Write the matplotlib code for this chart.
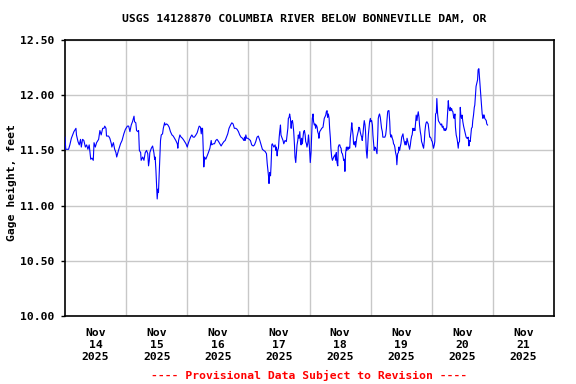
import matplotlib
matplotlib.use("Agg")
import matplotlib.pyplot as plt

# Hours since Nov 14 2025 00:00 and gage height (feet)
hours = [
    0.0, 0.3, 1.4, 1.9, 2.5, 3.0, 3.5, 4.3, 4.5, 5.1, 5.6, 6.1, 6.4, 6.9, 7.4, 8.0,
    8.5, 9.0, 9.5, 10.1, 10.6, 11.1, 11.4, 11.9, 12.4, 13.2, 13.7, 14.2, 14.5, 14.8,
    15.3, 15.6, 16.1, 16.3, 17.1, 17.6, 18.2, 18.4, 19.0, 19.5, 20.0, 20.3, 21.0,
    21.8, 22.4, 23.1, 23.7, 24.5, 25.0,
    25.5, 26.0, 26.5, 27.1, 27.3, 27.8, 28.1, 28.6, 28.9, 29.2, 29.7, 29.9, 30.5,
    31.0, 31.5, 32.0, 32.5, 32.8, 33.1, 33.3, 33.9, 34.4, 34.9, 35.2, 35.4, 35.7,
    36.2, 36.5, 36.7, 37.0, 37.5, 37.8, 38.3, 38.6, 39.1, 39.3, 39.9, 40.4, 40.9,
    41.4, 42.0, 42.5, 43.0, 43.5, 44.1, 44.3, 44.6, 45.1, 45.6, 46.1, 46.7, 47.5,
    48.0, 48.2, 48.8, 49.3, 49.8, 50.3, 50.8, 51.4, 51.9, 52.4,
    52.7, 53.2, 53.5, 53.7, 54.0, 54.3, 54.5, 54.8, 55.3, 55.8, 56.3, 56.9, 57.4,
    57.6, 58.2, 58.7, 59.2, 59.7, 60.3, 60.8, 61.3, 61.8, 62.4, 62.9, 63.4, 63.9,
    64.4, 65.0, 65.5, 66.0, 66.5, 67.1, 67.6, 68.1, 68.6, 69.1, 69.7, 70.2, 70.5,
    70.7, 71.0, 71.3, 71.8, 72.3, 72.8, 73.3, 73.9, 74.4, 74.9, 75.4, 75.9, 76.5,
    77.0, 77.5, 78.0, 78.6,
    79.1, 79.4, 79.9, 80.1, 80.4, 80.7, 80.9, 81.2, 81.4, 82.0, 82.5, 82.8, 83.0,
    83.3, 83.5, 83.8, 84.1, 84.3, 84.6, 84.8, 85.1, 85.6, 85.9, 86.4, 86.9, 87.2,
    87.5, 87.7, 88.0, 88.2, 88.5, 88.8, 89.0, 89.3, 89.5, 89.8, 90.1, 90.3, 90.6,
    90.9, 91.1, 91.4, 91.6, 91.9, 92.2, 92.4, 92.7, 92.9, 93.2, 93.4, 93.7, 94.0,
    94.3, 94.5, 94.8, 95.0, 95.3, 95.6, 95.8, 96.1, 96.3, 96.6, 96.9, 97.1, 97.4,
    97.6, 97.9, 98.2, 98.4, 98.7, 99.0, 99.2, 99.5, 99.7, 100.0, 100.3, 100.8,
    101.3, 101.6, 101.8, 102.4, 102.6, 102.9, 103.1, 103.4, 103.7, 103.9, 104.2,
    104.4, 104.7, 105.0,
    105.5, 106.0, 106.3, 106.5, 106.8, 107.1, 107.3, 107.6, 107.9, 108.1, 108.4,
    108.6, 108.9, 109.2, 109.4, 109.7, 109.9, 110.2, 110.5, 110.7, 111.0, 111.3,
    111.5, 111.8, 112.0, 112.3, 112.6, 112.8, 113.1, 113.3, 113.6, 113.9, 114.1,
    114.4, 114.6, 114.9, 115.2, 115.4, 115.7, 115.9, 116.2, 116.5, 116.7, 117.0,
    117.3, 117.5, 117.8, 118.0, 118.3, 118.6, 118.8, 119.1, 119.4, 119.6, 119.9,
    120.1, 120.4, 120.7, 120.9, 121.2, 121.4, 121.7, 122.0, 122.2, 122.5, 122.8,
    123.0, 123.3, 123.5, 123.8, 124.1, 124.3, 124.6, 124.8, 125.1, 125.6, 125.9,
    126.2, 126.4, 126.7, 126.9, 127.2, 127.5, 127.7, 128.0, 128.2, 128.5, 128.8,
    129.0, 129.3, 129.5, 129.8, 130.1, 130.3, 130.6, 130.9, 131.1, 131.4, 131.6,
    131.9,
    132.2, 132.7, 132.9, 133.2, 133.5, 133.7, 134.0, 134.3, 134.5, 134.8, 135.0,
    135.3, 135.6, 135.8, 136.1, 136.3, 136.6, 136.9, 137.1, 137.4, 137.7, 137.9,
    138.2, 138.4, 138.7, 139.0, 139.2, 139.5, 139.8, 140.0, 140.3, 140.5, 140.8,
    141.1, 141.3, 141.6, 141.8, 142.1, 142.3, 142.6, 142.9, 143.2, 143.4, 143.7,
    143.9, 144.2, 144.5, 144.7, 145.0, 145.2, 145.5, 145.8, 146.0, 146.3, 146.6,
    146.8, 147.1, 147.3, 147.6, 147.9, 148.1, 148.4, 148.6, 148.9, 149.2, 149.4,
    149.7, 149.9, 150.2, 150.5, 150.7, 151.0, 151.3, 151.5, 151.8, 152.0, 152.3,
    152.6, 152.8, 153.1, 153.3, 153.6, 153.9, 154.1, 154.4, 154.6, 154.9, 155.2,
    155.4, 155.7, 155.9, 156.2, 156.5, 156.7, 157.0, 157.3, 157.5, 157.8, 158.0,
    158.3, 158.6, 158.8, 159.1, 159.4, 159.6, 159.9, 160.1, 160.4, 160.7, 160.9,
    161.2, 161.4, 162.0, 162.2, 162.5, 162.8, 163.0, 163.3, 163.5, 163.8, 164.1,
    164.3, 164.6, 164.8, 165.4, 165.6, 165.9,
]

stage = [
    11.62, 11.51, 11.51, 11.55, 11.61, 11.64, 11.67, 11.70, 11.64, 11.58, 11.55, 11.60, 11.53, 11.60, 11.59, 11.53,
    11.55, 11.51, 11.55, 11.42, 11.43, 11.41, 11.57, 11.53, 11.57, 11.60, 11.68, 11.64, 11.67, 11.70,
    11.70, 11.72, 11.70, 11.63, 11.63, 11.61, 11.56, 11.53, 11.57, 11.51, 11.48, 11.44, 11.50,
    11.56, 11.59, 11.65, 11.69, 11.72, 11.72,
    11.67, 11.73, 11.76, 11.81, 11.76, 11.75, 11.68, 11.67, 11.68, 11.50, 11.48, 11.41, 11.44,
    11.41, 11.48, 11.50, 11.47, 11.36, 11.41, 11.48, 11.52, 11.54, 11.48, 11.42, 11.44, 11.32,
    11.06, 11.15, 11.12, 11.30, 11.59, 11.64, 11.65, 11.70, 11.75, 11.73, 11.74, 11.73, 11.71,
    11.67, 11.64, 11.63, 11.61, 11.59, 11.56, 11.52, 11.59, 11.64, 11.62, 11.61, 11.59, 11.56,
    11.53, 11.55, 11.59, 11.62, 11.64, 11.62, 11.62, 11.64, 11.66, 11.70,
    11.72, 11.71, 11.65, 11.70, 11.70, 11.48, 11.35, 11.44, 11.42, 11.45, 11.48, 11.52, 11.59,
    11.55, 11.56, 11.56, 11.59, 11.60, 11.58, 11.56, 11.54, 11.56, 11.58, 11.59, 11.62, 11.65,
    11.70, 11.73, 11.75, 11.74, 11.70, 11.70, 11.69, 11.67, 11.64, 11.62, 11.61, 11.59, 11.62,
    11.59, 11.64, 11.61, 11.61, 11.60, 11.59, 11.55, 11.54, 11.55, 11.58, 11.62, 11.63, 11.59,
    11.55, 11.51, 11.50, 11.49,
    11.47, 11.38, 11.27, 11.20, 11.30, 11.27, 11.36, 11.55, 11.56, 11.53, 11.55, 11.50, 11.53,
    11.45, 11.50, 11.52, 11.62, 11.67, 11.73, 11.64, 11.62, 11.59, 11.56, 11.59, 11.58, 11.64,
    11.70, 11.79, 11.80, 11.83, 11.79, 11.70, 11.76, 11.77, 11.74, 11.67, 11.55, 11.44, 11.39,
    11.48, 11.55, 11.59, 11.64, 11.61, 11.67, 11.59, 11.55, 11.61, 11.56, 11.61, 11.67, 11.68,
    11.64, 11.58, 11.56, 11.53, 11.56, 11.64, 11.59, 11.48, 11.39, 11.48, 11.68, 11.79, 11.83,
    11.76, 11.73, 11.74, 11.70, 11.73, 11.71, 11.67, 11.65, 11.61, 11.67, 11.68, 11.70,
    11.71, 11.76, 11.79, 11.82, 11.85, 11.86, 11.80, 11.83, 11.79, 11.70, 11.61,
    11.52, 11.44, 11.41,
    11.44, 11.46, 11.41, 11.48, 11.39, 11.36, 11.53, 11.55, 11.55, 11.53, 11.52,
    11.48, 11.47, 11.44, 11.41, 11.42, 11.31, 11.48, 11.53, 11.50, 11.53, 11.51,
    11.53, 11.52, 11.61, 11.67, 11.75, 11.70, 11.64, 11.56, 11.55, 11.58, 11.53,
    11.58, 11.62, 11.65, 11.68, 11.71, 11.70, 11.67, 11.64, 11.62, 11.59, 11.65,
    11.73, 11.77, 11.73, 11.67, 11.50, 11.43, 11.52, 11.64, 11.71, 11.76, 11.79,
    11.76, 11.77, 11.73, 11.64, 11.55, 11.50, 11.53, 11.52, 11.50, 11.47, 11.64,
    11.79, 11.82, 11.83, 11.80, 11.74, 11.70, 11.67, 11.62, 11.62, 11.62, 11.64,
    11.70, 11.77, 11.85, 11.86, 11.86, 11.76, 11.65, 11.62, 11.64, 11.61, 11.59,
    11.56, 11.55, 11.53, 11.48, 11.45, 11.37, 11.47, 11.48, 11.53, 11.50, 11.53,
    11.56,
    11.62, 11.65, 11.61, 11.58, 11.55, 11.58, 11.55, 11.61, 11.59, 11.56, 11.54,
    11.51, 11.55, 11.59, 11.63, 11.64, 11.70, 11.68, 11.70, 11.68, 11.76, 11.82,
    11.77, 11.81, 11.85, 11.80, 11.73, 11.67, 11.63, 11.58, 11.56, 11.54, 11.52,
    11.59, 11.67, 11.73, 11.75, 11.76, 11.75, 11.74, 11.68, 11.62, 11.62, 11.61,
    11.59, 11.58, 11.54, 11.52, 11.55, 11.58, 11.83, 11.84, 11.97, 11.83, 11.77,
    11.76, 11.75, 11.74, 11.73, 11.74, 11.71, 11.72, 11.70, 11.68, 11.70, 11.68,
    11.69, 11.71, 11.83, 11.95, 11.89, 11.86, 11.89, 11.86, 11.88, 11.86, 11.85,
    11.80, 11.79, 11.83, 11.71, 11.64, 11.61, 11.58, 11.52, 11.57, 11.58, 11.89,
    11.82, 11.79, 11.82, 11.76, 11.72, 11.70, 11.67, 11.64, 11.62, 11.61, 11.61,
    11.62, 11.54, 11.59, 11.58, 11.65, 11.70, 11.71, 11.77, 11.82, 11.89, 11.91,
    12.02, 12.08, 12.14, 12.23, 12.24, 12.14, 12.06, 11.98, 11.92, 11.83, 11.79,
    11.82, 11.82, 11.79, 11.77, 11.74, 11.73,
]

day_labels = ["Nov\n14\n2025", "Nov\n15\n2025", "Nov\n16\n2025", "Nov\n17\n2025",
              "Nov\n18\n2025", "Nov\n19\n2025", "Nov\n20\n2025", "Nov\n21\n2025"]
y_ticks = [10.0, 10.5, 11.0, 11.5, 12.0, 12.5]

font = {"family": "DejaVu Sans Mono", "weight": "bold", "size": 8.2}

fig = plt.figure(figsize=(5.76, 3.84), dpi=100)
ax = fig.add_axes([65 / 576, 1 - 316 / 384, 489 / 576, 276 / 384])

ax.plot(hours, stage, color="#0000ff", linewidth=0.8, zorder=3)

ax.set_xlim(0, 24 * len(day_labels))
ax.set_ylim(10.0, 12.5)

# grid lines at midnight, labels at noon
ax.set_xticks([24 * i for i in range(1, len(day_labels))], minor=True)
ax.set_xticks([24 * i + 12 for i in range(len(day_labels))])
ax.set_xticklabels(day_labels, fontdict=font, linespacing=1.25)
ax.set_yticks(y_ticks)
ax.set_yticklabels([f"{v:.2f}" for v in y_ticks], fontdict=font)

ax.grid(True, which="minor", axis="x", color="#c8c8c8", linewidth=1.0)
ax.grid(True, which="major", axis="y", color="#c8c8c8", linewidth=1.0)
ax.tick_params(axis="x", which="both", length=0, pad=9)
ax.tick_params(axis="y", length=3, width=1, pad=5)
for s in ax.spines.values():
    s.set_linewidth(1.2)
    s.set_color("black")

fig.text(304 / 576, 1 - 19 / 384, "USGS 14128870 COLUMBIA RIVER BELOW BONNEVILLE DAM, OR",
         ha="center", va="center", **font)
fig.text(12 / 576, 1 - 183 / 384, "Gage height, feet", rotation=90,
         ha="center", va="center", **font)
fig.text(309 / 576, 1 - 375 / 384, "---- Provisional Data Subject to Revision ----",
         ha="center", va="center", color="red", **font)

fig.savefig("out.png", dpi=100)
